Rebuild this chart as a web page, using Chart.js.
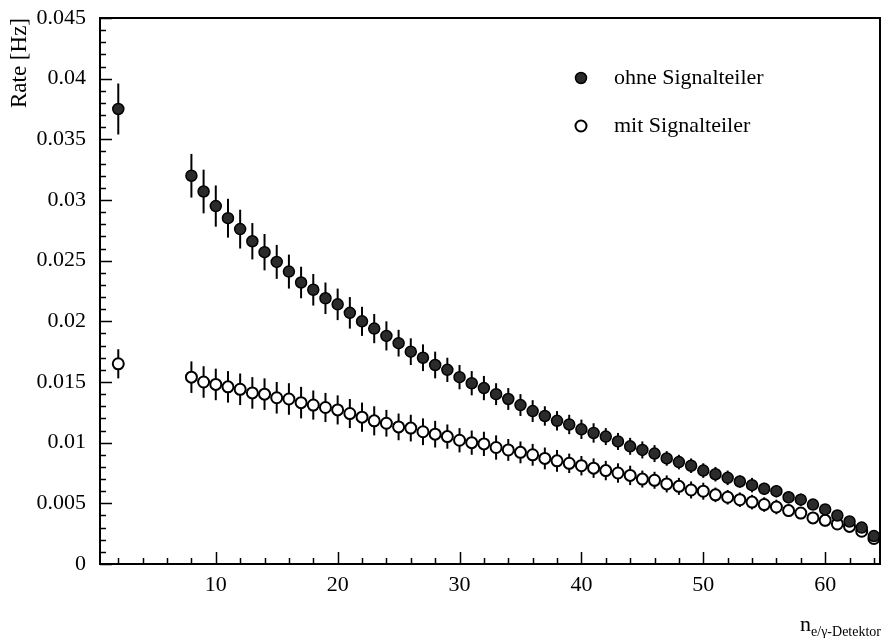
<!DOCTYPE html>
<html lang="de">
<head>
  <meta charset="UTF-8">
  <title>Rate vs n</title>
  <script src="https://cdn.jsdelivr.net/npm/chart.js"></script>
  <style>
    html, body { margin: 0; padding: 0; background: #fff; }
    #wrap { width: 882px; height: 638px; }
  </style>
</head>
<body>
  <div id="wrap"><canvas id="rateChart" width="882" height="638"></canvas></div>
  <script>
    // bin numbers
    const nBins = [2, 8, 9, 10, 11, 12, 13, 14, 15, 16, 17, 18, 19, 20, 21, 22, 23, 24, 25, 26, 27, 28, 29, 30,
      31, 32, 33, 34, 35, 36, 37, 38, 39, 40, 41, 42, 43, 44, 45, 46, 47, 48, 49, 50, 51, 52, 53, 54, 55,
      56, 57, 58, 59, 60, 61, 62, 63, 64];

    // ohne Signalteiler
    const rateOhne = [0.0375, 0.0320, 0.0307, 0.0295, 0.0285, 0.0276, 0.0266, 0.0257, 0.0249, 0.0241, 0.0232,
      0.0226, 0.0219, 0.0214, 0.0207, 0.0200, 0.0194, 0.0188, 0.0182, 0.0175, 0.0170, 0.0164, 0.0160, 0.0154,
      0.0149, 0.0145, 0.0140, 0.0136, 0.0131, 0.0126, 0.0122, 0.0118, 0.0115, 0.0111, 0.0108, 0.0105, 0.0101,
      0.0097, 0.0094, 0.0091, 0.0087, 0.0084, 0.0081, 0.0077, 0.0074, 0.0071, 0.0068, 0.0065, 0.0062, 0.0060,
      0.0055, 0.0053, 0.0049, 0.0045, 0.0040, 0.0035, 0.0030, 0.0023];
    const errOhne = [0.0021, 0.0018, 0.0018, 0.0017, 0.0016, 0.0016, 0.0015, 0.0015, 0.0014, 0.0014, 0.0013,
      0.0013, 0.0013, 0.0013, 0.0013, 0.0012, 0.0012, 0.0012, 0.0011, 0.0011, 0.0011, 0.0011, 0.0010, 0.0010,
      0.0010, 0.0010, 0.0009, 0.0009, 0.0009, 0.0009, 0.0008, 0.0008, 0.0008, 0.0008, 0.0008, 0.0007, 0.0007,
      0.0007, 0.0007, 0.0007, 0.0006, 0.0006, 0.0006, 0.0006, 0.0006, 0.0006, 0.0005, 0.0006, 0.0005, 0.0005,
      0.0005, 0.0005, 0.0004, 0.0004, 0.0004, 0.0003, 0.0003, 0.0003];

    // mit Signalteiler
    const rateMit = [0.0165, 0.0154, 0.0150, 0.0148, 0.0146, 0.0144, 0.0141, 0.0140, 0.0137, 0.0136, 0.0133,
      0.0131, 0.0129, 0.0127, 0.0124, 0.0121, 0.0118, 0.0116, 0.0113, 0.0112, 0.0109, 0.0107, 0.0105, 0.0102,
      0.0100, 0.0099, 0.0096, 0.0094, 0.0092, 0.0090, 0.0087, 0.0085, 0.0083, 0.0081, 0.0079, 0.0077, 0.0075,
      0.0073, 0.0070, 0.0069, 0.0066, 0.0064, 0.0061, 0.0060, 0.0057, 0.0055, 0.0053, 0.0051, 0.0049, 0.0047,
      0.0044, 0.0042, 0.0038, 0.0036, 0.0033, 0.0031, 0.0027, 0.0021];
    const errMit = [0.0012, 0.0013, 0.0013, 0.0013, 0.0013, 0.0013, 0.0013, 0.0013, 0.0013, 0.0013, 0.0013,
      0.0012, 0.0012, 0.0012, 0.0012, 0.0012, 0.0012, 0.0011, 0.0011, 0.0011, 0.0011, 0.0011, 0.0010, 0.0010,
      0.0010, 0.0010, 0.0010, 0.0009, 0.0009, 0.0009, 0.0009, 0.0009, 0.0008, 0.0008, 0.0008, 0.0008, 0.0008,
      0.0008, 0.0007, 0.0007, 0.0007, 0.0007, 0.0007, 0.0007, 0.0006, 0.0006, 0.0006, 0.0006, 0.0006, 0.0006,
      0.0005, 0.0005, 0.0005, 0.0005, 0.0004, 0.0004, 0.0003, 0.0003];

    const yTicks = [0, 0.005, 0.01, 0.015, 0.02, 0.025, 0.03, 0.035, 0.04, 0.045];
    const xTicks = [10, 20, 30, 40, 50, 60];
    const seriesNames = ['ohne Signalteiler', 'mit Signalteiler'];

    const serif = "'Liberation Serif', 'DejaVu Serif', serif";

    function toPoints(ys, errs) {
      return nBins.map((x, i) => ({ x: x, y: ys[i], err: errs[i] }));
    }

    // vertical error bars, drawn under the markers
    const errorBars = {
      id: 'errorBars',
      beforeDatasetsDraw(chart) {
        const ctx = chart.ctx;
        const xs = chart.scales.x, ys = chart.scales.y;
        ctx.save();
        ctx.strokeStyle = '#000';
        ctx.lineWidth = 2;
        chart.data.datasets.forEach(ds => {
          ds.data.forEach(p => {
            const px = xs.getPixelForValue(p.x);
            ctx.beginPath();
            ctx.moveTo(px, ys.getPixelForValue(p.y - p.err));
            ctx.lineTo(px, ys.getPixelForValue(p.y + p.err));
            ctx.stroke();
          });
        });
        ctx.restore();
      }
    };

    // frame, inward ticks, legend and x title
    const decorations = {
      id: 'decorations',
      afterDraw(chart) {
        const ctx = chart.ctx;
        const a = chart.chartArea;
        const xs = chart.scales.x, ys = chart.scales.y;
        ctx.save();
        ctx.strokeStyle = '#000';
        ctx.lineWidth = 2;
        ctx.strokeRect(a.left, a.top, a.right - a.left, a.bottom - a.top);

        ctx.lineWidth = 1.5;
        ctx.beginPath();
        for (let k = 0; k <= 45; k++) {
          const py = Math.round(ys.getPixelForValue(k / 1000)) + 0.5;
          const len = (k % 5 === 0) ? 12 : 6;
          ctx.moveTo(a.left, py);
          ctx.lineTo(a.left + len, py);
        }
        for (let v = 2; v <= 64; v += 2) {
          const px = Math.round(xs.getPixelForValue(v)) + 0.5;
          const len = (v % 10 === 0) ? 12 : 6;
          ctx.moveTo(px, a.bottom);
          ctx.lineTo(px, a.bottom - len);
        }
        ctx.stroke();

        // legend
        const rows = [78, 126];
        chart.data.datasets.forEach((ds, i) => {
          ctx.beginPath();
          ctx.arc(581, rows[i], 5.5, 0, Math.PI * 2);
          ctx.fillStyle = ds.backgroundColor;
          ctx.fill();
          ctx.lineWidth = ds.borderWidth;
          ctx.strokeStyle = ds.borderColor;
          ctx.stroke();
          ctx.fillStyle = '#000';
          ctx.font = '22px ' + serif;
          ctx.textBaseline = 'middle';
          ctx.textAlign = 'left';
          ctx.fillText(ds.label, 614, rows[i]);
        });

        // x axis title with subscript
        ctx.textBaseline = 'alphabetic';
        ctx.textAlign = 'right';
        ctx.font = '14px ' + serif;
        const sub = 'e/\u03b3-Detektor';
        const subW = ctx.measureText(sub).width;
        ctx.fillText(sub, 881, 636);
        ctx.font = '22px ' + serif;
        ctx.fillText('n', 881 - subW, 631);
        ctx.restore();
      }
    };

    new Chart(document.getElementById('rateChart'), {
      type: 'scatter',
      data: {
        datasets: [
          {
            label: seriesNames[0],
            data: toPoints(rateOhne, errOhne),
            backgroundColor: '#2b2b2b',
            borderColor: '#000',
            borderWidth: 1.5,
            pointRadius: 5.5,
            pointHoverRadius: 5.5
          },
          {
            label: seriesNames[1],
            data: toPoints(rateMit, errMit),
            backgroundColor: '#fff',
            borderColor: '#000',
            borderWidth: 2,
            pointRadius: 5.5,
            pointHoverRadius: 5.5
          }
        ]
      },
      options: {
        responsive: false,
        animation: false,
        layout: { autoPadding: false, padding: { left: 0, right: 2, top: 18, bottom: 0 } },
        plugins: {
          legend: { display: false },
          tooltip: { enabled: false }
        },
        scales: {
          x: {
            type: 'linear',
            min: 0.5,
            max: 64.5,
            grid: { display: false, drawTicks: false },
            border: { display: false },
            afterBuildTicks: s => { s.ticks = xTicks.map(v => ({ value: v })); },
            afterFit: s => { s.height = 74; s.paddingLeft = 0; s.paddingRight = 0; },
            ticks: {
              color: '#000',
              padding: 8,
              font: { family: serif, size: 22 }
            }
          },
          y: {
            min: 0,
            max: 0.045,
            grid: { display: false, drawTicks: false },
            border: { display: false },
            afterBuildTicks: s => { s.ticks = yTicks.map(v => ({ value: v })); },
            afterFit: s => { s.width = 100; s.paddingTop = 0; s.paddingBottom = 0; },
            ticks: {
              color: '#000',
              padding: 14,
              font: { family: serif, size: 22 },
              callback: v => String(Number(v.toFixed(3)))
            },
            title: {
              display: true,
              text: 'Rate [Hz]',
              align: 'end',
              color: '#000',
              padding: { top: 6, bottom: 0 },
              font: { family: serif, size: 23 }
            }
          }
        }
      },
      plugins: [errorBars, decorations]
    });
  </script>
</body>
</html>
